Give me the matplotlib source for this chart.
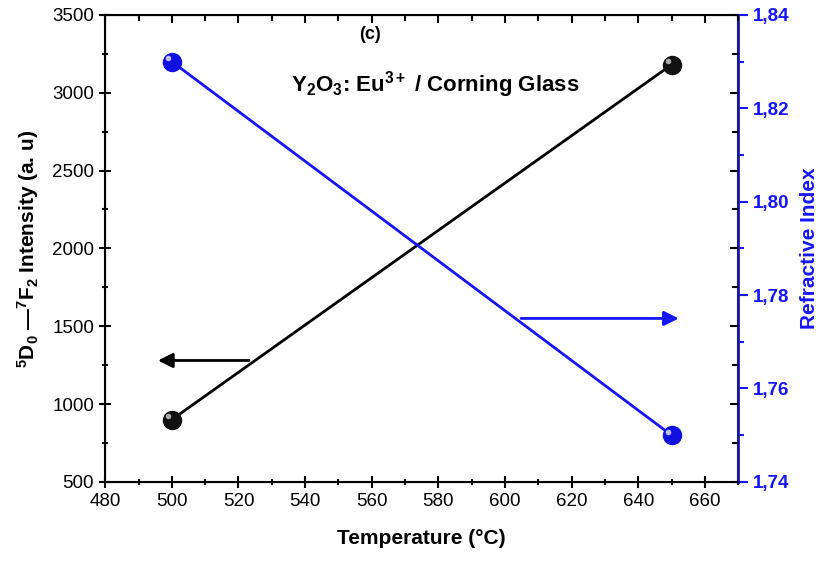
import matplotlib.pyplot as plt
from matplotlib.ticker import MultipleLocator, FuncFormatter
import matplotlib.transforms as mtransforms

plt.rcParams['font.family'] = ['Liberation Sans', 'DejaVu Sans']
plt.rcParams['mathtext.fontset'] = 'custom'
plt.rcParams['mathtext.rm'] = 'Liberation Sans'
plt.rcParams['mathtext.bf'] = 'Liberation Sans:bold'
plt.rcParams['mathtext.it'] = 'Liberation Sans:italic'

temperature = [500, 650]
intensity = [900, 3180]
refractive_index = [1.83, 1.75]

BLUE = '#1515ff'
NAVY = '#1a1aa0'
POS = [0.128, 0.159, 0.770, 0.815]

fig = plt.figure(figsize=(8.22, 5.73), dpi=100)
ax = fig.add_axes(POS)
ax2 = ax.twinx()

# left axis: intensity
ax.plot(temperature, intensity, color='black', lw=2, zorder=3)
ax.plot(temperature, intensity, 'o', color='#111111', ms=13, zorder=4)
shift = mtransforms.ScaledTranslation(-2.5 / 72, 2.5 / 72, fig.dpi_scale_trans)
ax.plot(temperature, intensity, 'o', color='#aaaaaa', ms=4, mec='none',
        transform=ax.transData + shift, zorder=5)

ax.set_xlim(480, 670)
ax.set_ylim(500, 3500)
ax.xaxis.set_major_locator(MultipleLocator(20))
ax.xaxis.set_minor_locator(MultipleLocator(10))
ax.yaxis.set_major_locator(MultipleLocator(500))
ax.yaxis.set_minor_locator(MultipleLocator(250))
ax.tick_params(axis='both', which='both', direction='inout', labelsize=13.5, width=1.5)
ax.tick_params(axis='both', which='major', length=9)
ax.tick_params(axis='both', which='minor', length=5)
for s in ax.spines.values():
    s.set_linewidth(1.5)

ax.set_xlabel('Temperature (°C)', fontsize=15, fontweight='bold', labelpad=14)
ax.set_ylabel(r'$\mathbf{^5D_0}$ —$\mathbf{^7F_2}$ Intensity (a. u)', fontsize=15,
              fontweight='bold', labelpad=8)

ax.annotate('', xy=(495, 1280), xytext=(524, 1280),
            arrowprops=dict(arrowstyle='-|>', color='black', lw=2, mutation_scale=22))

# right axis: refractive index
ax2.plot(temperature, refractive_index, color=BLUE, lw=2, zorder=3)
ax2.plot(temperature, refractive_index, 'o', color='#1010e0', ms=13, zorder=4)
ax2.plot(temperature, refractive_index, 'o', color='#c0c0ff', ms=4, mec='none',
         transform=ax2.transData + shift, zorder=5)
ax2.set_ylim(1.74, 1.84)
ax2.yaxis.set_major_locator(MultipleLocator(0.02))
ax2.yaxis.set_minor_locator(MultipleLocator(0.01))
ax2.yaxis.set_major_formatter(FuncFormatter(lambda v, p: f'{v:.2f}'.replace('.', ',')))
ax2.tick_params(axis='y', which='both', direction='out', colors=BLUE, labelsize=13.5, width=1.5)
ax2.tick_params(axis='y', which='major', length=7)
ax2.tick_params(axis='y', which='minor', length=4)
for lab in ax2.get_yticklabels():
    lab.set_fontweight('bold')
ax2.spines['right'].set_color(NAVY)
ax2.spines['right'].set_linewidth(2)
ax2.set_ylabel('Refractive Index', fontsize=15, fontweight='bold', color=BLUE, labelpad=8)

ax2.annotate('', xy=(653, 1.775), xytext=(604, 1.775),
             arrowprops=dict(arrowstyle='-|>', color=BLUE, lw=2, mutation_scale=22))

# mirrored ticks (top and right, pointing inward)
ax3 = fig.add_axes(POS, frameon=False)
ax3.set_zorder(5)
ax3.patch.set_visible(False)
ax3.set_xlim(480, 670)
ax3.set_ylim(500, 3500)
ax3.xaxis.set_major_locator(MultipleLocator(20))
ax3.xaxis.set_minor_locator(MultipleLocator(10))
ax3.yaxis.set_major_locator(MultipleLocator(500))
ax3.yaxis.set_minor_locator(MultipleLocator(250))
ax3.tick_params(axis='both', which='both', direction='in', left=False, bottom=False,
                right=True, top=True, labelleft=False, labelbottom=False, width=1.5)
ax3.tick_params(axis='both', which='major', length=6)
ax3.tick_params(axis='both', which='minor', length=4)

ax.text(0.419, 0.957, '(c)', transform=ax.transAxes, fontsize=13, fontweight='bold',
        ha='center', va='center')
ax.text(0.521, 0.85, r'Y$\mathbf{_2}$O$\mathbf{_3}$: Eu$\mathbf{^{3+}}$ / Corning Glass',
        transform=ax.transAxes, fontsize=16, fontweight='bold', ha='center', va='center')

fig.savefig('out.png', dpi=100)
